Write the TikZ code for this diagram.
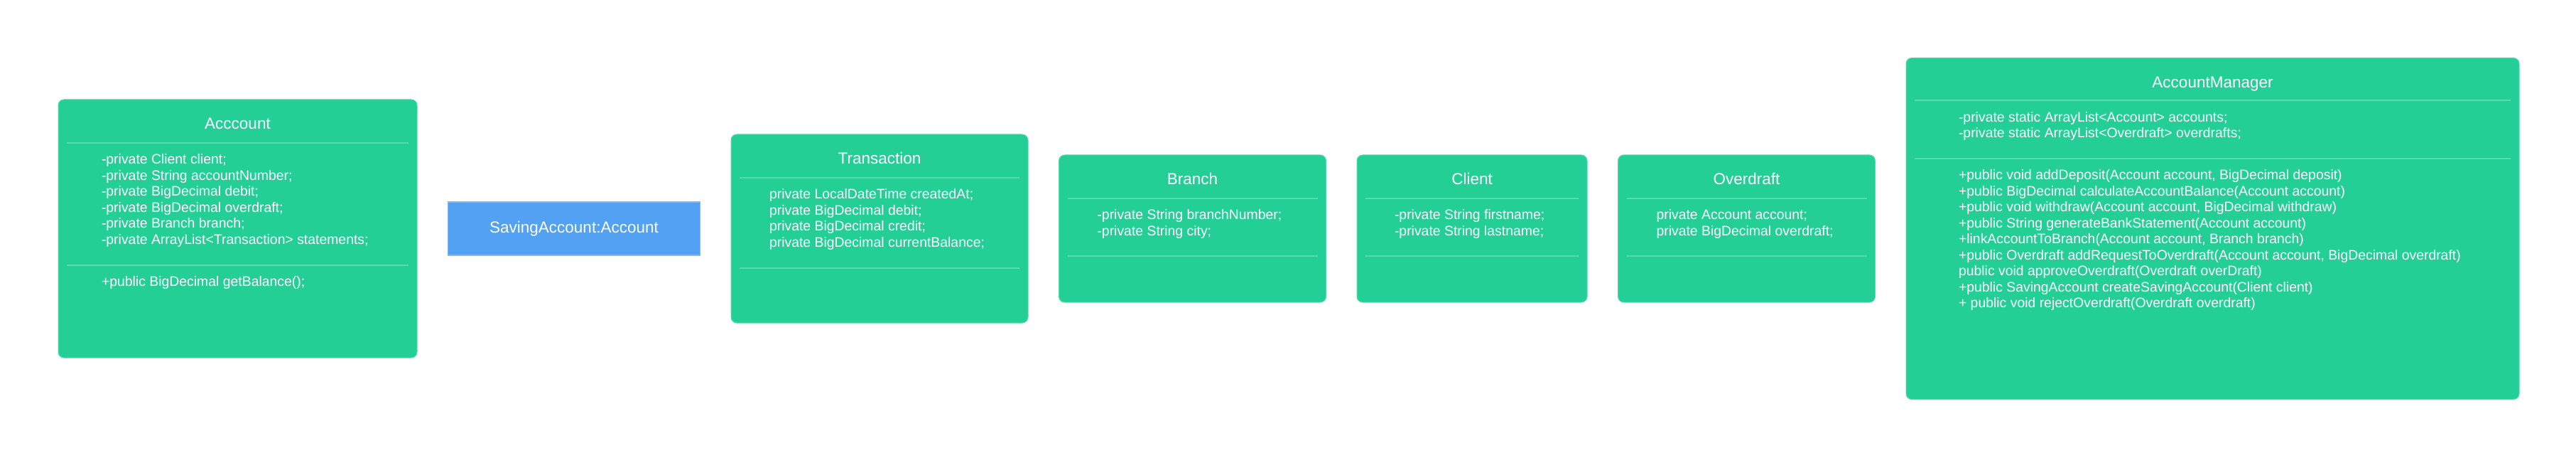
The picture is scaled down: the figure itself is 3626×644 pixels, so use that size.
\documentclass[tikz,border=0pt]{standalone}
\usepackage{fontspec}
\setmainfont{Liberation Sans}
\usepackage{xcolor}
\usepackage{tikz}
\usetikzlibrary{positioning, calc}
\definecolor{umlGreen}{RGB}{36, 207, 150}
\definecolor{umlRule}{RGB}{84, 220, 174}
\definecolor{umlBlue}{RGB}{82, 161, 242}
\definecolor{umlBlueEdge}{RGB}{128, 186, 247}
\newcommand{\umlTitleFont}{\fontsize{22.5}{27}\selectfont}
\newcommand{\umlMemberFont}{\fontsize{19.4}{22.5}\selectfont}
\tikzset{
    base/.style={
        text=white,
        inner sep=0pt,
        outer sep=0pt
    },
    classbox/.style={
        base,
        rectangle,
        rounded corners=8pt,
        draw=umlRule,
        line width=1pt,
        fill=umlGreen
    },
    objectbox/.style={
        base,
        rectangle,
        draw=umlBlueEdge,
        line width=1.5pt,
        fill=umlBlue,
        font=\umlTitleFont
    },
    classname/.style={
        base,
        font=\umlTitleFont,
        anchor=base
    },
    members/.style={
        base,
        font=\umlMemberFont,
        align=left,
        anchor=north west
    },
    sepline/.style={
        draw=umlRule,
        line width=2pt
    }
}

\begin{document}
\begin{tikzpicture}[node distance=43.5pt]
  \fill[white] (0,0) rectangle (3626pt,-644pt);
  \useasboundingbox (0,0) rectangle (3626pt,-644pt);

  % Classes
  \node[classbox, minimum width=505pt, minimum height=363pt] (acc) at (334.5pt,-321.5pt) {};
  \node[objectbox, minimum width=355pt, minimum height=75pt, right=of acc] (saving) {SavingAccount:Account};
  \node[classbox, minimum width=418pt, minimum height=265pt, right=of saving] (trans) {};
  \node[classbox, minimum width=376pt, minimum height=207pt, right=of trans] (branch) {};
  \node[classbox, minimum width=324pt, minimum height=207pt, right=of branch] (client) {};
  \node[classbox, minimum width=362pt, minimum height=207pt, right=of client] (overdraft) {};
  \node[classbox, minimum width=863pt, minimum height=480pt, right=of overdraft] (manager) {};

  % Acccount
  \node[classname] (accName) at ([yshift=-42pt]acc.north) {Acccount};
  \draw[sepline] ([shift={(12pt,-61pt)}]acc.north west) -- ([shift={(-12pt,-61pt)}]acc.north east);
  \node[members] (accAttr) at ([shift={(61pt,-76.5pt)}]acc.north west) {-private Client client;\\-private String accountNumber;\\-private BigDecimal debit;\\-private BigDecimal overdraft;\\-private Branch branch;\\-private ArrayList<Transaction> statements;};
  \draw[sepline] ([shift={(12pt,-232.5pt)}]acc.north west) -- ([shift={(-12pt,-232.5pt)}]acc.north east);
  \node[members] (accOps) at ([shift={(61pt,-248pt)}]acc.north west) {+public BigDecimal getBalance();};

  % Transaction
  \node[classname] (transName) at ([yshift=-42pt]trans.north) {Transaction};
  \draw[sepline] ([shift={(12pt,-61pt)}]trans.north west) -- ([shift={(-12pt,-61pt)}]trans.north east);
  \node[members] (transAttr) at ([shift={(54pt,-76.5pt)}]trans.north west) {private LocalDateTime createdAt;\\private BigDecimal debit;\\private BigDecimal credit;\\private BigDecimal currentBalance;};
  \draw[sepline] ([shift={(12pt,-187.5pt)}]trans.north west) -- ([shift={(-12pt,-187.5pt)}]trans.north east);

  % Branch
  \node[classname] (branchName) at ([yshift=-42pt]branch.north) {Branch};
  \draw[sepline] ([shift={(12pt,-61pt)}]branch.north west) -- ([shift={(-12pt,-61pt)}]branch.north east);
  \node[members] (branchAttr) at ([shift={(54pt,-76.5pt)}]branch.north west) {-private String branchNumber;\\-private String city;};
  \draw[sepline] ([shift={(12pt,-142pt)}]branch.north west) -- ([shift={(-12pt,-142pt)}]branch.north east);

  % Client
  \node[classname] (clientName) at ([yshift=-42pt]client.north) {Client};
  \draw[sepline] ([shift={(12pt,-61pt)}]client.north west) -- ([shift={(-12pt,-61pt)}]client.north east);
  \node[members] (clientAttr) at ([shift={(53pt,-76.5pt)}]client.north west) {-private String firstname;\\-private String lastname;};
  \draw[sepline] ([shift={(12pt,-142pt)}]client.north west) -- ([shift={(-12pt,-142pt)}]client.north east);

  % Overdraft
  \node[classname] (overdraftName) at ([yshift=-42pt]overdraft.north) {Overdraft};
  \draw[sepline] ([shift={(12pt,-61pt)}]overdraft.north west) -- ([shift={(-12pt,-61pt)}]overdraft.north east);
  \node[members] (overdraftAttr) at ([shift={(54pt,-76.5pt)}]overdraft.north west) {private Account account;\\private BigDecimal overdraft;};
  \draw[sepline] ([shift={(12pt,-142pt)}]overdraft.north west) -- ([shift={(-12pt,-142pt)}]overdraft.north east);

  % AccountManager
  \node[classname] (managerName) at ([yshift=-42pt]manager.north) {AccountManager};
  \draw[sepline] ([shift={(12pt,-60pt)}]manager.north west) -- ([shift={(-12pt,-60pt)}]manager.north east);
  \node[members] (managerAttr) at ([shift={(74pt,-75.5pt)}]manager.north west) {-private static ArrayList<Account> accounts;\\-private static ArrayList<Overdraft> overdrafts;};
  \draw[sepline] ([shift={(12pt,-141.5pt)}]manager.north west) -- ([shift={(-12pt,-141.5pt)}]manager.north east);
  \node[members] (managerOps) at ([shift={(74pt,-157pt)}]manager.north west) {+public void addDeposit(Account account, BigDecimal deposit)\\+public BigDecimal calculateAccountBalance(Account account)\\+public void withdraw(Account account, BigDecimal withdraw)\\+public String generateBankStatement(Account account)\\+linkAccountToBranch(Account account, Branch branch)\\+public Overdraft addRequestToOverdraft(Account account, BigDecimal overdraft)\\public void approveOverdraft(Overdraft overDraft)\\+public SavingAccount createSavingAccount(Client client)\\+ public void rejectOverdraft(Overdraft overdraft)};
\end{tikzpicture}
\end{document}
